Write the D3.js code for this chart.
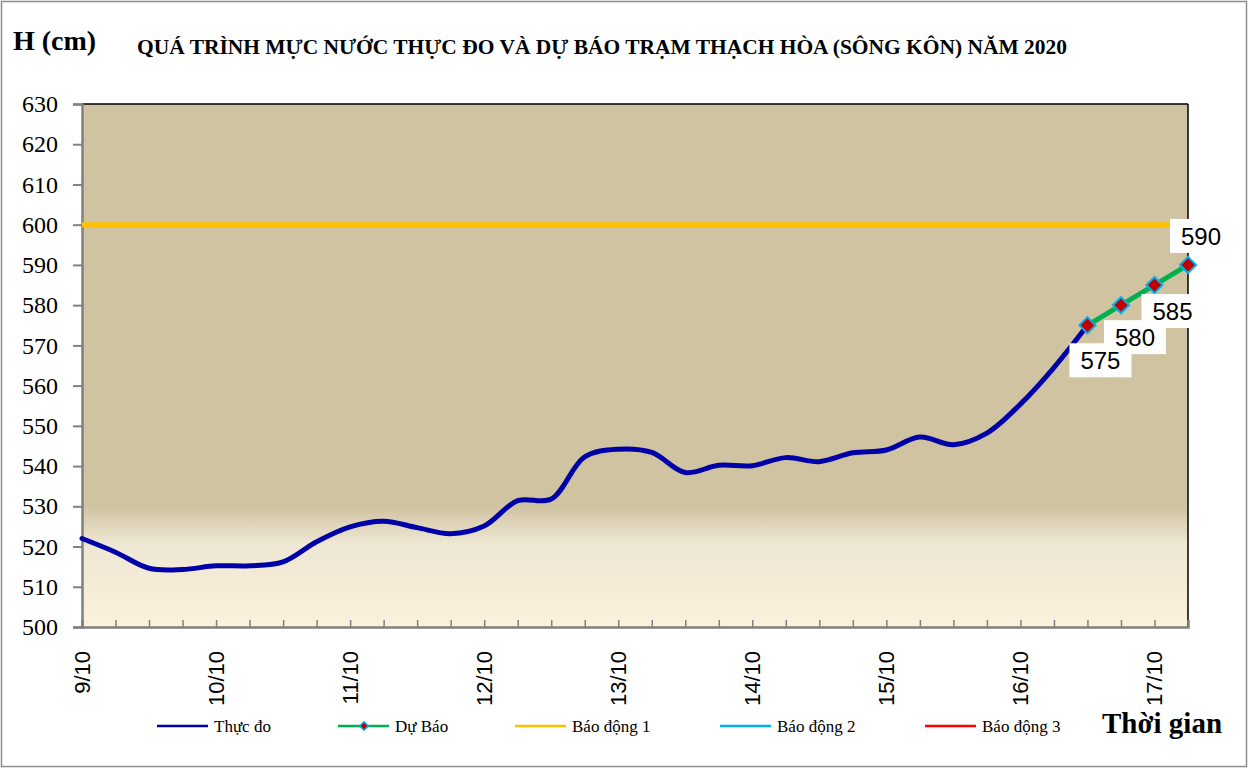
<!DOCTYPE html>
<html>
<head>
<meta charset="utf-8">
<script src="https://cdn.jsdelivr.net/npm/d3@7"></script>
<style>
  html, body { margin: 0; padding: 0; background: #fff; }
  svg { display: block; }
</style>
</head>
<body>
<svg id="chart" width="1249" height="769"></svg>
<script>
// ---------- DATA ----------
const dayLabels = ["9/10", "10/10", "11/10", "12/10", "13/10", "14/10", "15/10", "16/10", "17/10"];
const stepsPerDay = 4; // one category every 6 hours
const totalSteps = 33; // 9/10 00h .. 17/10 06h
// measured water level (cm), every 6 h from 9/10 00h
const measured = [522.0, 518.6, 514.6, 514.3, 515.2, 515.2, 516.2, 521.2, 524.9, 526.3,
                  524.7, 523.2, 525.1, 531.4, 531.8, 542.3, 544.2, 543.4, 538.4, 540.2,
                  540.1, 542.1, 541.1, 543.3, 544.0, 547.2, 545.3, 548.2, 555.4, 564.5, 575.0];
const forecastStart = 30;
const forecast = [575, 580, 585, 590];
const alarm1 = 600;
const yTicks = [500, 510, 520, 530, 540, 550, 560, 570, 580, 590, 600, 610, 620, 630];
const legendItems = ["Thực đo", "Dự Báo", "Báo động 1", "Báo động 2", "Báo động 3"];

// ---------- STYLE / PLACEMENT ----------
const legendColors = ["#0000A8", "#00B050", "#FFC000", "#00B0F0", "#FF0000"];
const labelOffsets = [[13, 44], [14, 41], [18, 35], [13, -20]]; // baseline offset from point
const svg = d3.select("#chart");
const L = 82, R = 1188, T = 104, B = 627;
const serif = "'Liberation Serif', 'Times New Roman', serif";
const sans = "'Liberation Sans', Arial, sans-serif";

const x = d3.scaleLinear().domain([0, totalSteps]).range([L, R]);
const y = d3.scaleLinear().domain([500, 630]).range([B, T]);

// outer border
svg.append("rect").attr("x", 1.5).attr("y", 1.5).attr("width", 1245).attr("height", 765)
  .attr("fill", "#fff").attr("stroke", "#8c8c8c").attr("stroke-width", 1.5);

// plot background gradient
const defs = svg.append("defs");
const grad = defs.append("linearGradient").attr("id", "bg").attr("x1", 0).attr("y1", 0).attr("x2", 0).attr("y2", 1);
[[0, "#D0C3A1"], [0.77, "#D0C3A1"], [0.84, "#EEE7D3"], [1, "#FCF1DC"]].forEach(([o, c]) =>
  grad.append("stop").attr("offset", o).attr("stop-color", c));
svg.append("rect").attr("x", L).attr("y", T).attr("width", R - L).attr("height", B - T).attr("fill", "url(#bg)");

// top & right border (black)
svg.append("line").attr("x1", L).attr("x2", R).attr("y1", T).attr("y2", T).attr("stroke", "#000").attr("stroke-width", 1.5);
svg.append("line").attr("x1", R).attr("x2", R).attr("y1", T).attr("y2", B).attr("stroke", "#000").attr("stroke-width", 1.5);

// Y axis
const yAxis = d3.axisLeft(y).tickValues(yTicks).tickSize(9).tickPadding(15).tickFormat(d3.format("d"));
const gy = svg.append("g").attr("transform", `translate(${L},0)`).call(yAxis);
gy.select(".domain").attr("stroke", "#808080").attr("stroke-width", 2.5);
gy.selectAll(".tick line").attr("stroke", "#808080").attr("stroke-width", 2);
gy.selectAll(".tick text").attr("font-family", serif).attr("font-size", 24).attr("fill", "#000");

// X axis (inside ticks)
const xAxis = d3.axisBottom(x).tickValues(d3.range(1, totalSteps)).tickSize(-7).tickFormat("");
const gx = svg.append("g").attr("transform", `translate(0,${B})`).call(xAxis);
gx.select(".domain").attr("stroke", "#808080").attr("stroke-width", 2.5);
gx.selectAll(".tick line").attr("stroke", "#808080").attr("stroke-width", 1.5);

// X labels (rotated)
svg.append("g").selectAll("text").data(dayLabels).join("text")
  .attr("transform", (d, i) => `translate(${x(i * stepsPerDay)},651) rotate(-90)`)
  .attr("text-anchor", "end").attr("dy", "0.35em")
  .attr("font-family", sans).attr("font-size", 22).attr("fill", "#000")
  .text(d => d);

// Alarm 1 line
svg.append("line").attr("x1", L).attr("x2", R).attr("y1", y(alarm1)).attr("y2", y(alarm1))
  .attr("stroke", "#FFC000").attr("stroke-width", 5);

// measured line
const line = d3.line().x(d => x(d[0])).y(d => y(d[1])).curve(d3.curveCatmullRom.alpha(0.5));
svg.append("path").datum(measured.map((v, i) => [i, v]))
  .attr("d", line).attr("fill", "none").attr("stroke", "#0000A8").attr("stroke-width", 5)
  .attr("stroke-linejoin", "round").attr("stroke-linecap", "round");

// forecast line
const fData = forecast.map((v, i) => [forecastStart + i, v]);
svg.append("path").datum(fData)
  .attr("d", d3.line().x(d => x(d[0])).y(d => y(d[1])))
  .attr("fill", "none").attr("stroke", "#00B050").attr("stroke-width", 5);

// markers
svg.append("g").selectAll("path").data(fData).join("path")
  .attr("d", d3.symbol().type(d3.symbolSquare).size(130))
  .attr("transform", d => `translate(${x(d[0])},${y(d[1])}) rotate(45)`)
  .attr("fill", "#C00000").attr("stroke", "#00B0F0").attr("stroke-width", 2);

// data labels: boxes first, then texts
const boxG = svg.append("g"), txtG = svg.append("g");
fData.forEach((d, i) => {
  const tx = x(d[0]) + labelOffsets[i][0];
  const ty = y(d[1]) + labelOffsets[i][1];
  const t = txtG.append("text").attr("x", tx).attr("y", ty)
    .attr("text-anchor", "middle").attr("font-family", sans).attr("font-size", 24)
    .attr("fill", "#000").text(d[1]);
  const w = t.node().getComputedTextLength();
  boxG.append("rect").attr("x", tx - w / 2 - 11).attr("y", ty - 26)
    .attr("width", w + 22).attr("height", 34).attr("fill", "#fff");
});

// Titles
svg.append("text").attr("x", 13).attr("y", 50).attr("font-family", serif).attr("font-weight", "bold")
  .attr("font-size", 28).text("H (cm)");
svg.append("text").attr("x", 137).attr("y", 54).attr("font-family", serif).attr("font-weight", "bold")
  .attr("font-size", 20).attr("textLength", 930).attr("lengthAdjust", "spacingAndGlyphs")
  .text("QUÁ TRÌNH MỰC NƯỚC THỰC ĐO VÀ DỰ BÁO TRẠM THẠCH HÒA (SÔNG KÔN) NĂM 2020");

// Legend
const legendX = [157, 338, 515, 720, 925];
const leg = svg.append("g");
legendItems.forEach((name, i) => {
  const lx = legendX[i];
  leg.append("line").attr("x1", lx).attr("x2", lx + 51).attr("y1", 726).attr("y2", 726)
    .attr("stroke", legendColors[i]).attr("stroke-width", 2.5);
  if (i === 1) {
    leg.append("path").attr("d", d3.symbol().type(d3.symbolSquare).size(36))
      .attr("transform", `translate(${lx + 26},726) rotate(45)`)
      .attr("fill", "#C00000").attr("stroke", "#00B0F0").attr("stroke-width", 1.5);
  }
  leg.append("text").attr("x", lx + 57).attr("y", 732).attr("font-family", serif)
    .attr("font-size", 17).attr("fill", "#000").text(name);
});
svg.append("text").attr("x", 1102).attr("y", 733).attr("font-family", serif).attr("font-weight", "bold")
  .attr("font-size", 29).attr("fill", "#000").text("Thời gian");
</script>
</body>
</html>
